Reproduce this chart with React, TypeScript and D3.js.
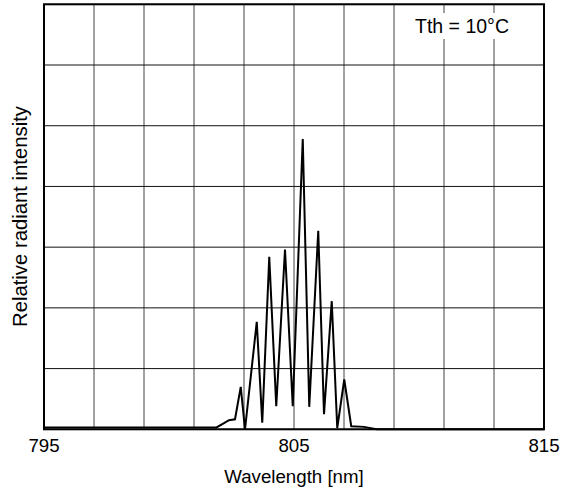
import React from "react";
import * as d3 from "d3";

const wavelengths = [795, 801.9, 802.2, 802.4, 802.64, 802.87, 803.04, 803.51, 803.73, 804.01, 804.29, 804.64, 804.95, 805.35, 805.61, 805.97, 806.2, 806.51, 806.73, 807.01, 807.29, 807.8, 808.3, 815];
const intensities = [0.03, 0.03, 0.1, 0.15, 0.165, 0.7, 0.0, 1.77, 0.11, 2.84, 0.38, 2.96, 0.38, 4.78, 0.37, 3.27, 0.25, 2.11, 0.02, 0.82, 0.05, 0.04, 0.0, 0.0];
const xTickLabels = [795, 805, 815];
const xGrid = d3.range(795, 815.001, 2);
const yGrid = d3.range(0, 7.001, 1);
const legendText = "Tth = 10°C";
const xTitle = "Wavelength [nm]";
const yTitle = "Relative radiant intensity";

export default function App() {
  const W = 566, H = 493;
  const left = 44, right = 544, top = 4.3, bottom = 429.3;
  const x = d3.scaleLinear().domain([795, 815]).range([left, right]);
  const y = d3.scaleLinear().domain([0, 7]).range([bottom, top]);
  const pts = wavelengths.map((w, i) => [w, intensities[i]] as [number, number]);
  const line = d3.line<[number, number]>().x(d => x(d[0])).y(d => y(d[1]));
  const font = "Arial, 'Liberation Sans', Helvetica, sans-serif";
  return (
    <svg width={W} height={H} style={{ position: "absolute", left: 0, top: 0, background: "#fff" }}>
      {xGrid.map(v => (
        <line key={"vx" + v} x1={x(v)} x2={x(v)} y1={top} y2={bottom} stroke="#444" strokeWidth={1} />
      ))}
      {yGrid.map(v => (
        <line key={"hy" + v} x1={left} x2={right} y1={y(v)} y2={y(v)} stroke="#111" strokeWidth={1} />
      ))}
      <rect x={408} y={13} width={112} height={26} fill="#fff" />
      <text x={415} y={32.5} textAnchor="start" fontFamily={font} fontSize={19.5} fill="#000">{legendText}</text>
      <path d={line(pts) || ""} fill="none" stroke="#000" strokeWidth={2} strokeLinejoin="miter" />
      <rect x={left} y={top} width={right - left} height={bottom - top} fill="none" stroke="#000" strokeWidth={2} />
      {xTickLabels.map(v => (
        <text key={"t" + v} x={x(v)} y={451.5} textAnchor="middle" fontFamily={font} fontSize={18.7} fill="#000">{v}</text>
      ))}
      <text x={x(805)} y={483} textAnchor="middle" fontFamily={font} fontSize={18.7} fill="#000">{xTitle}</text>
      <text transform={`translate(27,${(105 + 328) / 2}) rotate(-90)`} textAnchor="middle" fontFamily={font} fontSize={20.3} fill="#000">{yTitle}</text>
    </svg>
  );
}
